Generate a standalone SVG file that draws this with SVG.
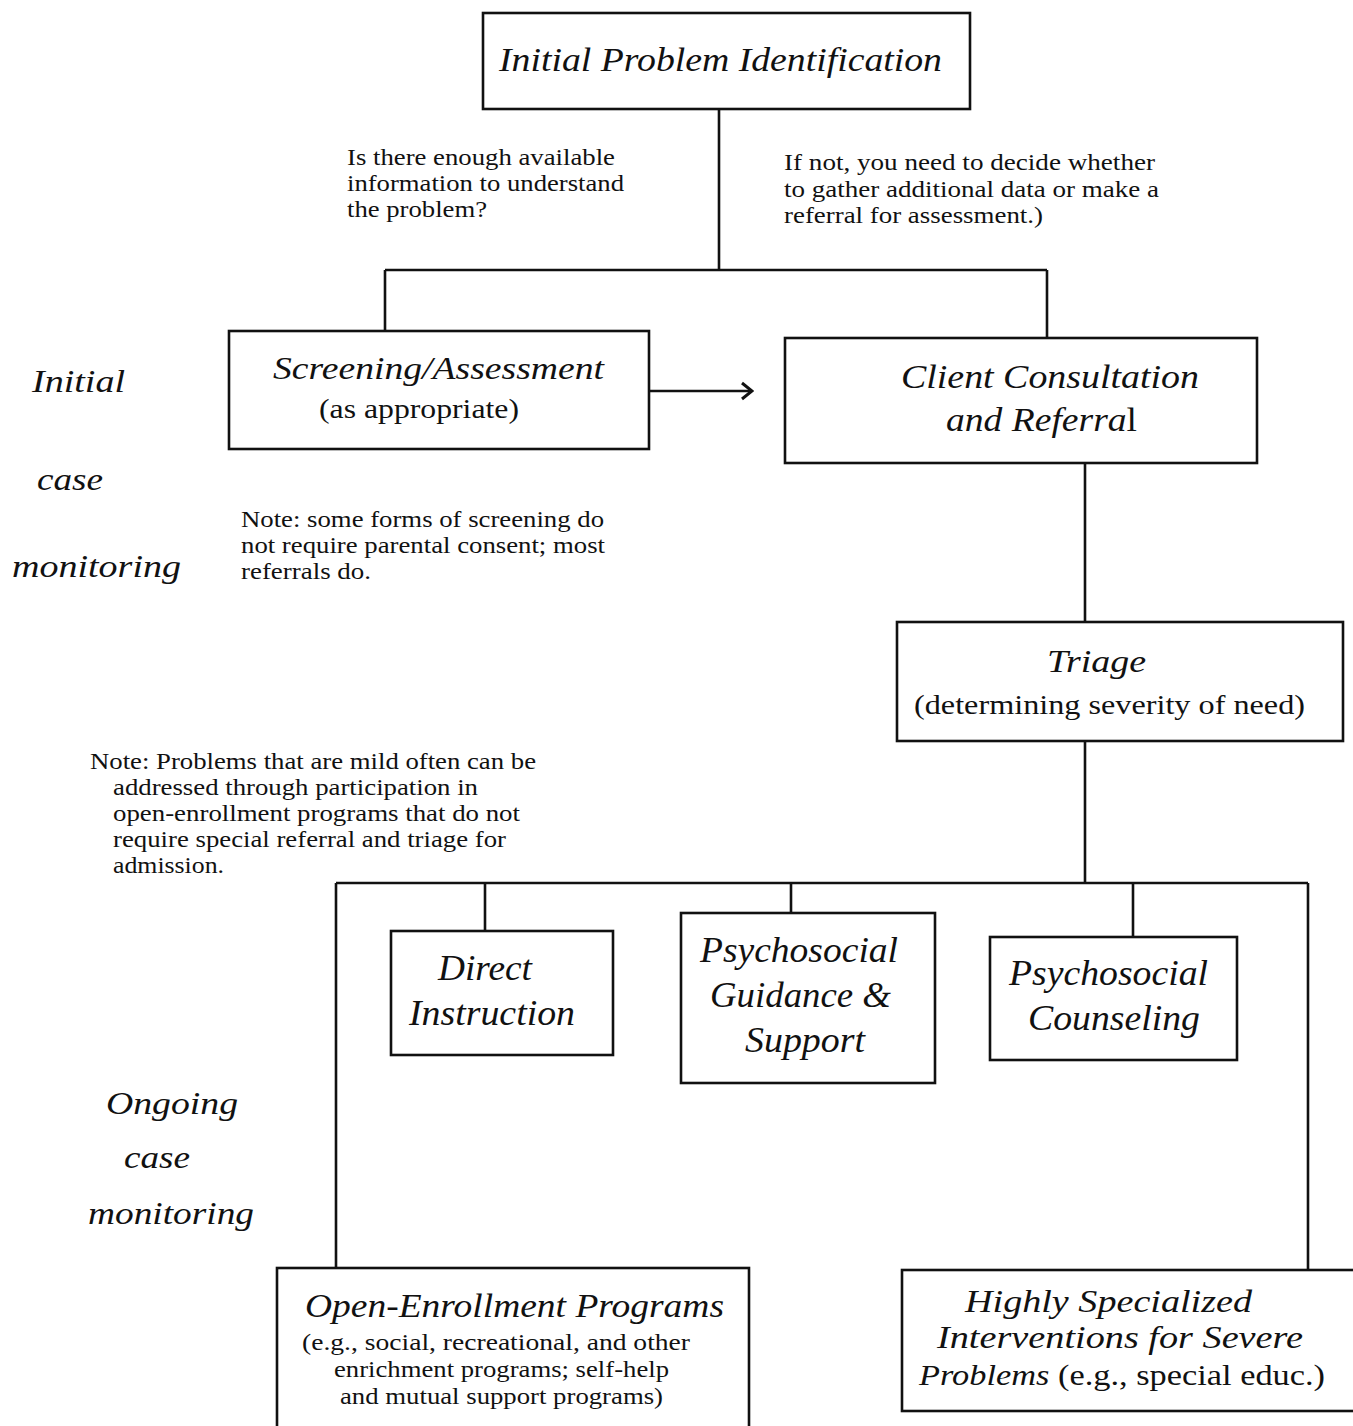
<svg xmlns="http://www.w3.org/2000/svg" width="1353" height="1426" viewBox="0 0 1353 1426">
  <style>
    .box { fill: #fff; stroke: #111; stroke-width: 2.6; }
    .wire { fill: none; stroke: #111; stroke-width: 2.6; }
    text { font-family: "Liberation Serif", "Times New Roman", serif; fill: #111; }
    .it { font-style: italic; }
    .note { font-size: 23px; }
    .side { font-style: italic; font-size: 32px; }
    .cond { font-style: italic; font-size: 36px; }
  </style>
  <defs>
    <marker id="chev" viewBox="0 0 14 20" refX="12" refY="10" markerWidth="14" markerHeight="20" markerUnits="userSpaceOnUse" orient="auto">
      <path d="M2,2 L12,10 L2,18" fill="none" stroke="#111" stroke-width="3"/>
    </marker>
  </defs>

  <rect width="1353" height="1426" fill="#fff"/>

  <!-- connectors -->
  <g id="connectors">
    <path class="wire" d="M719,109 V270 M385,270 H1047 M385,270 V331 M1047,270 V338"/>
    <path class="wire" d="M649,391 H752" marker-end="url(#chev)"/>
    <path class="wire" d="M1085,463 V622 M1085,741 V883"/>
    <path class="wire" d="M336,883 H1308 M336,883 V1268 M1308,883 V1270"/>
    <path class="wire" d="M485,883 V931 M791,883 V913 M1133,883 V937"/>
  </g>

  <!-- free-standing labels -->
  <g id="question-labels">
    <text class="note" x="347" y="165" textLength="268" lengthAdjust="spacingAndGlyphs">Is there enough available</text>
    <text class="note" x="347" y="191" textLength="277" lengthAdjust="spacingAndGlyphs">information to understand</text>
    <text class="note" x="347" y="217" textLength="140" lengthAdjust="spacingAndGlyphs">the problem?</text>
    <text class="note" x="784" y="170" textLength="371" lengthAdjust="spacingAndGlyphs">If not, you need to decide whether</text>
    <text class="note" x="784" y="197" textLength="375" lengthAdjust="spacingAndGlyphs">to gather additional data or make a</text>
    <text class="note" x="784" y="223" textLength="259" lengthAdjust="spacingAndGlyphs">referral for assessment.)</text>
  </g>

  <g id="notes">
    <text class="note" x="241" y="527" textLength="363" lengthAdjust="spacingAndGlyphs">Note: some forms of screening do</text>
    <text class="note" x="241" y="553" textLength="364" lengthAdjust="spacingAndGlyphs">not require parental consent; most</text>
    <text class="note" x="241" y="579" textLength="130" lengthAdjust="spacingAndGlyphs">referrals do.</text>
    <text class="note" x="90" y="769" textLength="446" lengthAdjust="spacingAndGlyphs">Note: Problems that are mild often can be</text>
    <text class="note" x="113" y="795" textLength="365" lengthAdjust="spacingAndGlyphs">addressed through participation in</text>
    <text class="note" x="113" y="821" textLength="407" lengthAdjust="spacingAndGlyphs">open-enrollment programs that do not</text>
    <text class="note" x="113" y="847" textLength="393" lengthAdjust="spacingAndGlyphs">require special referral and triage for</text>
    <text class="note" x="113" y="873" textLength="111" lengthAdjust="spacingAndGlyphs">admission.</text>
  </g>

  <g id="phase-labels">
    <text class="side" x="32" y="392" textLength="93" lengthAdjust="spacingAndGlyphs">Initial</text>
    <text class="side" x="37" y="490" textLength="66" lengthAdjust="spacingAndGlyphs">case</text>
    <text class="side" x="12" y="577" textLength="169" lengthAdjust="spacingAndGlyphs">monitoring</text>
    <text class="side" x="106" y="1114" textLength="132" lengthAdjust="spacingAndGlyphs">Ongoing</text>
    <text class="side" x="124" y="1168" textLength="66" lengthAdjust="spacingAndGlyphs">case</text>
    <text class="side" x="88" y="1224" textLength="166" lengthAdjust="spacingAndGlyphs">monitoring</text>
  </g>

  <!-- nodes -->
  <g id="initial-problem">
    <rect class="box" x="483" y="13" width="487" height="96"/>
    <text class="it" x="499" y="71" font-size="34" textLength="443" lengthAdjust="spacingAndGlyphs">Initial Problem Identification</text>
  </g>

  <g id="screening">
    <rect class="box" x="229" y="331" width="420" height="118"/>
    <text class="it" x="273" y="379" font-size="32" textLength="331" lengthAdjust="spacingAndGlyphs">Screening/Assessment</text>
    <text x="319" y="418" font-size="27" textLength="200" lengthAdjust="spacingAndGlyphs">(as appropriate)</text>
  </g>

  <g id="client-consultation">
    <rect class="box" x="785" y="338" width="472" height="125"/>
    <text class="it" x="901" y="388" font-size="34" textLength="298" lengthAdjust="spacingAndGlyphs">Client Consultation</text>
    <text x="946" y="431" font-size="34" textLength="191" lengthAdjust="spacingAndGlyphs"><tspan class="it">and Referra</tspan>l</text>
  </g>

  <g id="triage">
    <rect class="box" x="897" y="622" width="446" height="119"/>
    <text class="it" x="1047" y="672" font-size="32" textLength="99" lengthAdjust="spacingAndGlyphs">Triage</text>
    <text x="914" y="714" font-size="28" textLength="391" lengthAdjust="spacingAndGlyphs">(determining severity of need)</text>
  </g>

  <g id="direct-instruction">
    <rect class="box" x="391" y="931" width="222" height="124"/>
    <text class="cond" x="438" y="980" textLength="94" lengthAdjust="spacingAndGlyphs">Direct</text>
    <text class="cond" x="409" y="1025" textLength="166" lengthAdjust="spacingAndGlyphs">Instruction</text>
  </g>

  <g id="guidance-support">
    <rect class="box" x="681" y="913" width="254" height="170"/>
    <text class="cond" x="700" y="962" textLength="198" lengthAdjust="spacingAndGlyphs">Psychosocial</text>
    <text class="cond" x="710" y="1007" textLength="181" lengthAdjust="spacingAndGlyphs">Guidance &amp;</text>
    <text class="cond" x="745" y="1052" textLength="120" lengthAdjust="spacingAndGlyphs">Support</text>
  </g>

  <g id="counseling">
    <rect class="box" x="990" y="937" width="247" height="123"/>
    <text class="cond" x="1009" y="985" textLength="199" lengthAdjust="spacingAndGlyphs">Psychosocial</text>
    <text class="cond" x="1028" y="1030" textLength="172" lengthAdjust="spacingAndGlyphs">Counseling</text>
  </g>

  <g id="open-enrollment">
    <rect class="box" x="277" y="1268" width="472" height="170"/>
    <text class="it" x="305" y="1317" font-size="33" textLength="419" lengthAdjust="spacingAndGlyphs">Open-Enrollment Programs</text>
    <text x="302" y="1350" font-size="23" textLength="388" lengthAdjust="spacingAndGlyphs">(e.g., social, recreational, and other</text>
    <text x="334" y="1377" font-size="23" textLength="335" lengthAdjust="spacingAndGlyphs">enrichment programs; self-help</text>
    <text x="340" y="1404" font-size="23" textLength="323" lengthAdjust="spacingAndGlyphs">and mutual support programs)</text>
  </g>

  <g id="specialized">
    <rect class="box" x="902" y="1270" width="470" height="141"/>
    <text class="it" x="965" y="1312" font-size="32" textLength="287" lengthAdjust="spacingAndGlyphs">Highly Specialized</text>
    <text class="it" x="937" y="1348" font-size="32" textLength="366" lengthAdjust="spacingAndGlyphs">Interventions for Severe</text>
    <text x="919" y="1385" font-size="30" textLength="406" lengthAdjust="spacingAndGlyphs"><tspan class="it">Problems</tspan> (e.g., special educ.)</text>
  </g>
</svg>
